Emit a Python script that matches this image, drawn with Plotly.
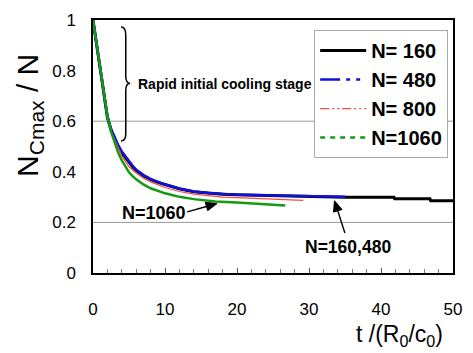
import plotly.graph_objects as go

# ---- data ----
t_160 = [0, 1, 2, 2.5, 3, 3.5, 4, 5, 5.5, 6, 7, 8, 9, 10, 12, 14, 16, 18, 20, 25, 30, 35, 41.8, 41.9, 46.8, 46.9, 50]
n_160 = [1, 0.81, 0.615, 0.565, 0.53, 0.5, 0.475, 0.435, 0.42, 0.405, 0.385, 0.37, 0.358, 0.35, 0.333, 0.321, 0.315, 0.311, 0.309, 0.306, 0.304, 0.299, 0.299, 0.293, 0.293, 0.286, 0.286]

t_480 = [0, 1, 2, 2.5, 3, 3.5, 4, 5, 5.5, 6, 7, 8, 9, 10, 12, 14, 16, 18, 20, 25, 30, 35]
n_480 = [1, 0.81, 0.62, 0.57, 0.535, 0.505, 0.48, 0.44, 0.424, 0.408, 0.387, 0.371, 0.359, 0.35, 0.333, 0.322, 0.316, 0.312, 0.309, 0.306, 0.304, 0.301]

t_800 = [0, 1, 2, 2.5, 3, 3.5, 4, 5, 6, 7, 8, 10, 12, 14, 16, 18, 20, 23, 26, 29.2]
n_800 = [1, 0.81, 0.615, 0.56, 0.525, 0.49, 0.462, 0.42, 0.395, 0.375, 0.36, 0.338, 0.322, 0.312, 0.305, 0.3, 0.298, 0.295, 0.29, 0.287]

t_1060 = [0, 1, 2, 2.5, 3, 3.5, 4, 5, 5.5, 6, 7, 8, 10, 12, 14, 17, 20, 23, 26.7]
n_1060 = [1, 0.81, 0.62, 0.56, 0.515, 0.475, 0.445, 0.398, 0.383, 0.37, 0.35, 0.335, 0.315, 0.301, 0.292, 0.283, 0.279, 0.274, 0.267]

series = [
    ("N= 160", t_160, n_160, "black", 3, "solid"),
    ("N= 480", t_480, n_480, "#1010e0", 2.5, "20px,6px,4px,6px,4px,6px"),
    ("N= 800", t_800, n_800, "#f0503c", 1.2, "9px,3px,2px,3px,2px,3px"),
    ("N=1060", t_1060, n_1060, "#139a13", 2.5, "5px,5px"),
]

FONT = "Liberation Sans, Arial, Helvetica, sans-serif"

# plot-area geometry (pixels)
L, R, T, B = 93, 456, 11, 273.5
W, H = 473, 353


def px2x(px):
    return (px - L) / (R - L) * 50


def px2y(py):
    return (B - py) / (B - T)


fig = go.Figure()
for name, t, n, col, w, dash in series:
    fig.add_trace(go.Scatter(x=t, y=n, mode="lines", line=dict(color=col, width=w),
                             showlegend=False, legendgroup=name, hoverinfo="skip"))
for name, t, n, col, w, dash in series:
    fig.add_trace(go.Scatter(x=[None], y=[None], mode="lines", name=name,
                             line=dict(color=col, width=w, dash=dash), legendgroup=name))

# gridlines at 0.2 and 0.6
for yv in [0.2, 0.6]:
    fig.add_shape(type="line", xref="x", yref="y", x0=0, x1=50, y0=yv, y1=yv,
                  line=dict(color="#999999", width=1), layer="below")

# brace
fig.add_shape(type="path", xref="x", yref="y",
              path="M 3.9 0.972 Q 4.55 0.972 4.55 0.94 L 4.55 0.78 Q 4.55 0.75 5.15 0.75 "
                   "Q 4.55 0.75 4.55 0.72 L 4.55 0.55 Q 4.55 0.522 3.9 0.522",
              line=dict(color="black", width=1.5))


def arrow(tail, head, hl=11, hw=4.5):
    tx, ty = tail
    hx, hy = head
    dx, dy = hx - tx, hy - ty
    d = (dx * dx + dy * dy) ** 0.5
    ux, uy = dx / d, dy / d
    bx, by = hx - ux * hl, hy - uy * hl
    nx, ny = -uy, ux
    fig.add_shape(type="line", xref="x", yref="y", x0=px2x(tx), y0=px2y(ty),
                  x1=px2x(bx), y1=px2y(by), line=dict(color="black", width=1.4))
    p1 = (bx + nx * hw, by + ny * hw)
    p2 = (bx - nx * hw, by - ny * hw)
    path = "M {} {} L {} {} L {} {} Z".format(px2x(hx), px2y(hy), px2x(p1[0]), px2y(p1[1]),
                                              px2x(p2[0]), px2y(p2[1]))
    fig.add_shape(type="path", xref="x", yref="y", path=path,
                  fillcolor="black", line=dict(color="black", width=1))


arrow((188, 210), (218, 201.5))
arrow((347, 232), (336.5, 198.5))

fig.add_annotation(x=px2x(136), y=px2y(77), xref="x", yref="y", text="<b>Rapid initial cooling stage</b>",
                   showarrow=False, xanchor="left", yanchor="middle",
                   font=dict(family=FONT, size=14, color="black"))
fig.add_annotation(x=px2x(120), y=px2y(211), xref="x", yref="y", text="<b>N=1060</b>",
                   showarrow=False, xanchor="left", yanchor="middle",
                   font=dict(family=FONT, size=18, color="black"))
fig.add_annotation(x=px2x(350), y=px2y(246.5), xref="x", yref="y", text="<b>N=160,480</b>",
                   showarrow=False, xanchor="center", yanchor="middle",
                   font=dict(family=FONT, size=17.5, color="black"))

# axis titles
fig.add_annotation(x=(29 - L) / (R - L), y=px2y(110), xref="paper", yref="paper",
                   text="N<sub>Cmax</sub> / N", xanchor="center", yanchor="middle",
                   showarrow=False, textangle=-90, font=dict(family=FONT, size=30, color="black"))
fig.add_annotation(x=(402 - L) / (R - L), y=px2y(338), xref="paper", yref="paper",
                   text="t /(R<sub>0</sub>/c<sub>0</sub>)", xanchor="center", yanchor="middle",
                   showarrow=False, font=dict(family=FONT, size=23, color="black"))

fig.update_layout(
    width=W, height=H,
    margin=dict(l=L, r=W - R, t=T, b=H - B),
    paper_bgcolor="white", plot_bgcolor="white",
    font=dict(family=FONT, size=17, color="black"),
    showlegend=True,
    legend=dict(x=(316 - L) / (R - L), y=px2y(21.5), xanchor="left", yanchor="top",
                bgcolor="white", bordercolor="#aaaaaa", borderwidth=1,
                font=dict(family=FONT, size=20, color="black", weight="bold"),
                itemwidth=46, tracegroupgap=0),
)
fig.update_xaxes(range=[0, 50], tickvals=[0, 10, 20, 30, 40, 50], showgrid=False,
                 showline=True, linecolor="black", linewidth=1.5, mirror=True,
                 ticks="inside", ticklen=5, tickcolor="#555555", zeroline=False,
                 ticklabelstandoff=20,
                 minor=dict(ticks="inside", dtick=2, ticklen=4, tickcolor="#777777", showgrid=False))
fig.update_yaxes(range=[0, 1], tickvals=[0, 0.2, 0.4, 0.6, 0.8, 1], ticktext=["0", "0.2", "0.4", "0.6", "0.8", "1"],
                 showgrid=False, showline=True, linecolor="black", linewidth=1.5, mirror=True,
                 ticks="", zeroline=False, ticklabelstandoff=12)

fig.write_html("out.html")
